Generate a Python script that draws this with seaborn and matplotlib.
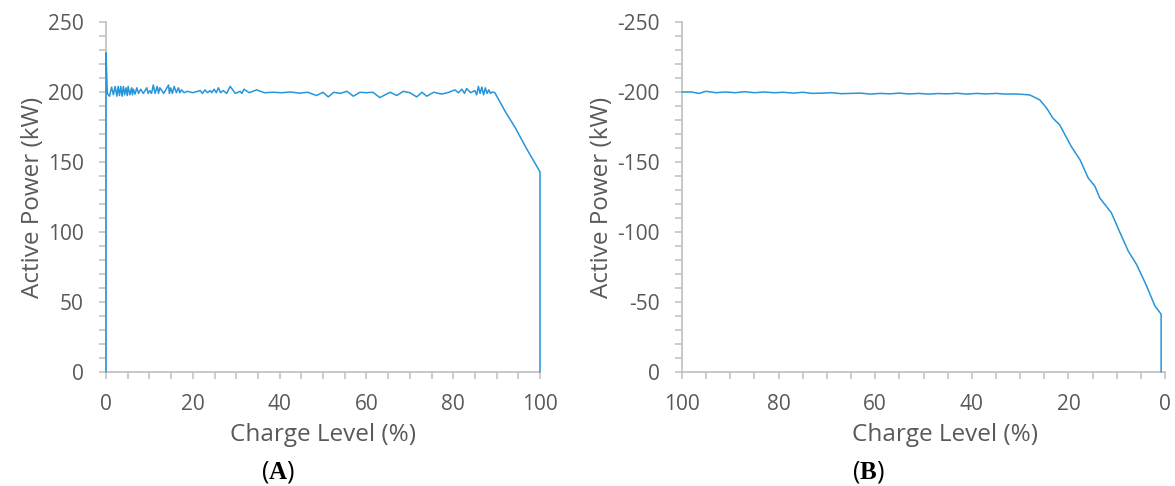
import matplotlib
matplotlib.use("Agg")
import matplotlib.pyplot as plt
from matplotlib.ticker import MultipleLocator
import seaborn as sns

# Panel A: charging, charge level (%) vs active power (kW)
charge_a = [0, 0, 0.3, 0.8, 1.3, 1.7, 2.1, 2.5, 2.8, 3.1,
            3.4, 3.7, 4.0, 4.3, 4.6, 4.9, 5.1, 5.5, 5.9, 6.1,
            6.3, 6.7, 7.1, 7.5, 8.0, 8.6, 9.4, 9.7, 10.1, 10.5,
            10.9, 11.3, 11.8, 12.1, 12.4, 13.3, 14.4, 14.6, 14.9, 15.3,
            15.7, 16.2, 16.7, 17.0, 17.4, 18.0, 18.7, 20.0, 21.7, 22.2,
            22.8, 23.4, 24.0, 24.4, 24.9, 25.4, 25.9, 26.4, 27.0, 27.8,
            28.6, 29.8, 30.9, 31.3, 31.8, 33.0, 34.7, 36.5, 38.5, 40.5,
            42.5, 44.5, 46.5, 48.5, 50.0, 51.2, 52.5, 54.0, 55.5, 57.0,
            58.5, 60.0, 61.5, 63.1, 64.3, 65.5, 67.0, 68.5, 70.0, 71.6,
            72.8, 73.9, 75.5, 77.4, 79.0, 80.4, 81.2, 82.0, 82.6, 83.1,
            84.0, 85.0, 85.4, 85.8, 86.2, 86.6, 87.0, 87.4, 87.8, 88.2,
            88.6, 89.0, 89.6, 92.0, 94.2, 97.0, 100, 100]
power_a = [0, 228, 199, 197, 203.5, 198, 204, 197, 204, 197.5,
           204, 197, 204, 198, 203, 197.5, 204, 198, 203, 198,
           202, 198.5, 203, 199, 202, 199, 203, 199, 201, 199,
           205, 199, 204, 199, 203, 199, 205, 199, 203, 199,
           204, 199.5, 203, 199.5, 201.5, 199.5, 200.5, 199.5, 201, 199,
           201.5, 199.5, 201, 199.5, 202, 199.5, 203, 199.5, 201, 199,
           204, 199, 200.5, 199, 202, 199.5, 201.5, 199.5, 199.8, 199.5,
           200, 199.2, 199.8, 197.5, 199.8, 196.5, 199.8, 199, 200.5, 197,
           199.8, 199.5, 199.8, 196, 198, 199.8, 197.5, 200.5, 199.5, 196.5,
           199.8, 197, 199.8, 198.5, 199.8, 201.5, 199.5, 202, 199, 202.5,
           199.5, 201, 198, 204, 199, 203.5, 198, 203, 199, 201.5,
           199, 200, 199.5, 186, 175, 159, 143, 0]

# Panel B: discharging
charge_b = [100, 98, 96.5, 95, 93, 91, 89, 87, 85, 83,
            81, 79, 77, 75, 73, 71, 69, 67, 65, 63,
            61, 59, 57, 55, 53, 51, 49, 47, 45, 43,
            41, 39, 37, 35, 33, 31, 29.5, 28.0, 25.9, 24.5,
            23.2, 21.8, 20.7, 19.4, 17.6, 15.9, 14.5, 13.5, 11.1, 9.3,
            7.6, 5.9, 3.8, 2.1, 0.8, 0.8]
power_b = [-200, -200, -199, -200.5, -199.5, -200, -199.5, -200.2, -199.5, -200,
           -199.5, -199.8, -199.2, -199.8, -199, -199.2, -199.5, -198.8, -199, -199.2,
           -198.5, -199, -198.7, -199.2, -198.6, -199, -198.5, -198.9, -198.7, -199.1,
           -198.5, -199.0, -198.6, -199.0, -198.5, -198.6, -198.3, -197.9, -194.3, -188.4,
           -181.3, -176.5, -169.4, -161.1, -151.6, -138.6, -132.6, -124.3, -113.7, -99.4,
           -86.3, -76.9, -61.4, -47.2, -41.3, 0]

x_ticks = [0, 20, 40, 60, 80, 100]
y_ticks_a = [0, 50, 100, 150, 200, 250]
y_ticks_b = [0, -50, -100, -150, -200, -250]

LINE = "#2596d9"
GREY = "#595959"
AXIS = "#bfbfbf"

sns.set_style("white")
plt.rcParams["font.family"] = ["Open Sans", "DejaVu Sans"]
plt.rcParams["axes.unicode_minus"] = False
plt.rcParams["mathtext.fontset"] = "custom"
plt.rcParams["mathtext.rm"] = "Liberation Serif"
plt.rcParams["mathtext.bf"] = "Liberation Serif:bold"

fig = plt.figure(figsize=(11.75, 4.86), dpi=100)
ax_a = fig.add_axes([106 / 1175, 1 - 372 / 486, 434 / 1175, 350 / 486])
ax_b = fig.add_axes([682 / 1175, 1 - 372 / 486, 483 / 1175, 350 / 486])

sns.lineplot(x=charge_a, y=power_a, sort=False, estimator=None, ax=ax_a,
             color=LINE, linewidth=1.1, zorder=3, clip_on=False)
sns.lineplot(x=charge_b, y=power_b, sort=False, estimator=None, ax=ax_b,
             color=LINE, linewidth=1.1, zorder=3, clip_on=False)

ax_a.set_xlim(0, 100)
ax_a.set_ylim(0, 250)
ax_a.set_yticks(y_ticks_a)
ax_b.set_xlim(100, 0)
ax_b.set_ylim(0, -250)
ax_b.set_yticks(y_ticks_b)

for ax in (ax_a, ax_b):
    ax.set_xticks(x_ticks)
    ax.xaxis.set_minor_locator(MultipleLocator(5))
    ax.yaxis.set_minor_locator(MultipleLocator(10))
    for side in ("top", "right"):
        ax.spines[side].set_visible(False)
    for side in ("left", "bottom"):
        ax.spines[side].set_color(AXIS)
        ax.spines[side].set_linewidth(1.2)
    ax.tick_params(which="both", direction="out", length=5, width=1.1,
                   color=AXIS, labelcolor=GREY, labelsize=15)
    ax.tick_params(which="major", pad=11)
    ax.tick_params(which="both", left=True, bottom=True)
    ax.set_xlabel("Charge Level (%)", fontsize=17.5, color=GREY)
    ax.set_ylabel("Active Power (kW)", fontsize=17.5, color=GREY, labelpad=2)

ax_a.xaxis.set_label_coords(0.5, -0.145)
ax_b.xaxis.set_label_coords(0.545, -0.145)

fig.text(278 / 1175, 1 - 472 / 486, r"($\mathbf{A}$)", fontsize=18,
         ha="center", va="center", color="black")
fig.text(868 / 1175, 1 - 472 / 486, r"($\mathbf{B}$)", fontsize=18,
         ha="center", va="center", color="black")

fig.savefig("out.png", dpi=100)
